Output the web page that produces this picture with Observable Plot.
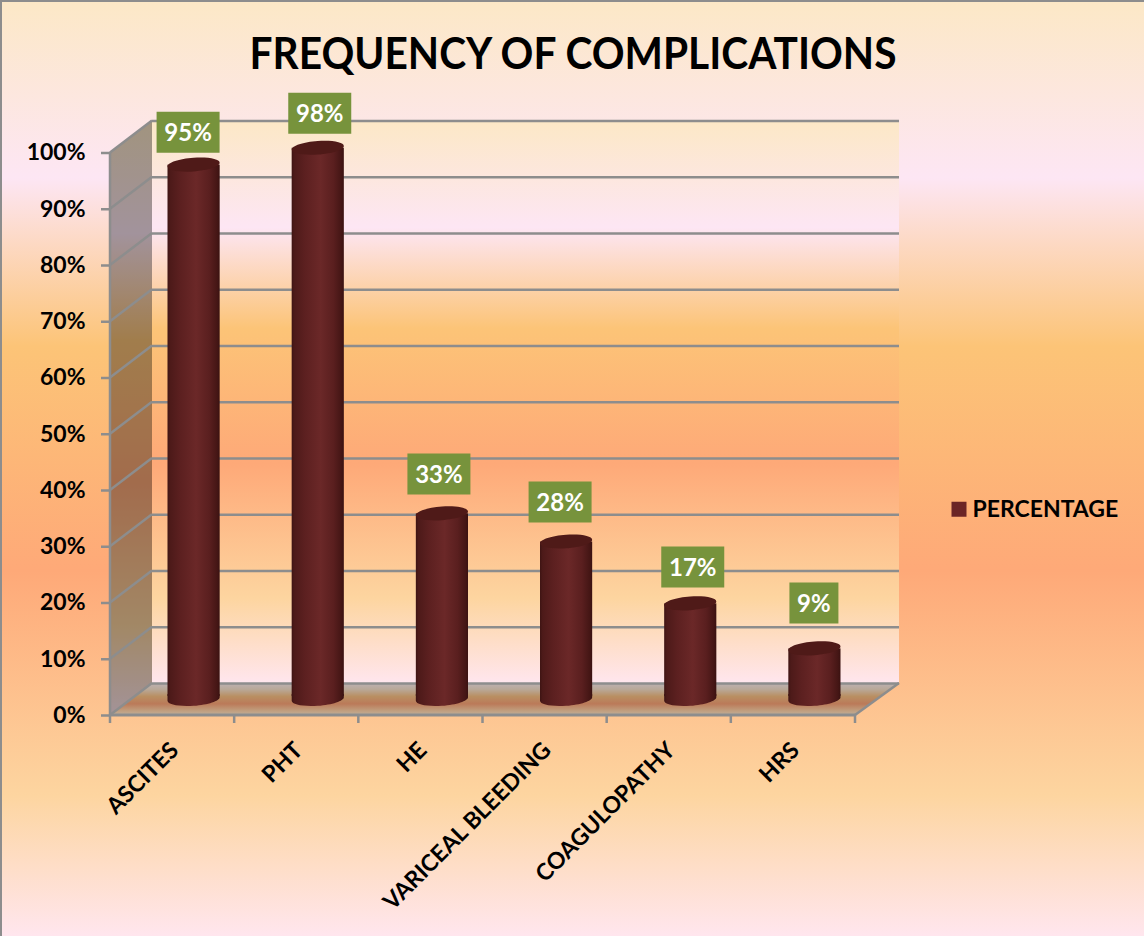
<!DOCTYPE html>
<html>
<head>
<meta charset="utf-8">
<script src="https://cdn.jsdelivr.net/npm/d3@7"></script>
<script src="https://cdn.jsdelivr.net/npm/@observablehq/plot@0.6"></script>
<style>
  html, body { margin: 0; padding: 0; background: #fff; }
  svg { display: block; }
</style>
</head>
<body>
<div id="chart"></div>
<script>
// Complication frequencies, in percent
const categories = ["ASCITES", "PHT", "HE", "VARICEAL BLEEDING", "COAGULOPATHY", "HRS"];
const percentages = [95, 98, 33, 28, 17, 9];
const yTicks = [0, 10, 20, 30, 40, 50, 60, 70, 80, 90, 100];

const chartTitle = "FREQUENCY OF COMPLICATIONS";
const seriesName = "PERCENTAGE";

// Hand placement of each value label, in pixels from its category and value
const labelOffsetX = [15.5, 23, 18, 15, 23.5, 20.5];
const labelOffsetY = [-49, -51, -56, -56, -53, -62];

const rows = categories.map((category, i) => ({category, value: percentages[i], i}));

// Oblique depth of the chart box
const depthX = 42;
const depthY = -32;
const lineGray = "#8d8d8d";
const font = "Lato";

// Shared sunset ramp for the page and the back wall
const ramp = [[0, "#fce8c6"], [0.19, "#fde6f4"], [0.37, "#fcc477"], [0.61, "#fea978"], [0.85, "#fdd5a0"], [1, "#ffe6ee"]];
const cssRamp = ramp.map(([o, c]) => `${c} ${o * 100}%`).join(", ");

function gradient(defs, id, stops, horizontal) {
  const g = defs.append("linearGradient").attr("id", id)
    .attr("x1", 0).attr("y1", 0)
    .attr("x2", horizontal ? 1 : 0).attr("y2", horizontal ? 0 : 1);
  for (const [o, c] of stops) g.append("stop").attr("offset", o).attr("stop-color", c);
}

const defsMark = () => {
  const defs = d3.create("svg:defs");
  gradient(defs, "wallRamp", ramp);
  gradient(defs, "floorRamp", [[0, "#bcb1b3"], [0.2, "#b9a898"], [0.42, "#b98f62"], [0.65, "#bb7a59"], [0.85, "#c09c7c"], [1, "#bfae98"]]);
  gradient(defs, "cylinder", [[0, "#3e1413"], [0.05, "#4d1a19"], [0.25, "#5c2020"], [0.55, "#6b2828"], [0.8, "#5a1f1f"], [0.95, "#451615"], [1, "#3a1211"]], true);
  return defs.node();
};

// Side wall, back wall, floor and the lines that tie them to the front axes
const boxMark = (index, {x, y}) => {
  const left = x(categories[0]);
  const right = x(categories[categories.length - 1]) + x.bandwidth();
  const y0 = y(0), y100 = y(100);
  const g = d3.create("svg:g");
  const poly = (pts, fill, opacity) => g.append("polygon")
    .attr("points", pts.map(p => p.join(",")).join(" "))
    .attr("fill", fill).attr("fill-opacity", opacity ?? 1);
  const seg = (x1, y1, x2, y2, w) => g.append("line")
    .attr("x1", x1).attr("y1", y1).attr("x2", x2).attr("y2", y2)
    .attr("stroke", lineGray).attr("stroke-width", w ?? 2.5);

  const backR = right + depthX + 2;
  poly([[left + depthX, y100 + depthY], [backR, y100 + depthY], [backR, y0 + depthY], [left + depthX, y0 + depthY]], "url(#wallRamp)");
  const side = [[left, y100], [left + depthX, y100 + depthY], [left + depthX, y0 + depthY], [left, y0]];
  poly(side, "url(#wallRamp)");
  poly(side, "#000", 0.36);
  poly([[left, y0], [left + depthX, y0 + depthY], [backR, y0 + depthY], [right, y0]], "url(#floorRamp)");

  for (const t of yTicks) seg(left, y(t), left + depthX, y(t) + depthY);
  seg(left, y100, left, y0);
  seg(left, y0, right, y0, 3);
  seg(right, y0, backR, y0 + depthY);
  for (const c of categories) seg(x(c), y0, x(c), y0 + 8);
  seg(right, y0, right, y0 + 8);
  return g.node();
};

// Cylinder ends: ellipses sheared so that the sides stay vertical
const capFlatness = 0.26, capShear = 0.07, bezierK = 0.5523;
const capPoint = (px, py) => [px, py - px * capShear];
const halfEllipse = (ctx, rx, ry, sign) => {
  const ctrl = (ax, ay, bx, by, cx, cy) =>
    ctx.bezierCurveTo(...capPoint(ax, ay), ...capPoint(bx, by), ...capPoint(cx, cy));
  ctrl(-rx * sign, ry * sign * bezierK, -rx * bezierK * sign, ry * sign, 0, ry * sign);
  ctrl(rx * bezierK * sign, ry * sign, rx * sign, ry * sign * bezierK, rx * sign, 0);
};
const capSymbol = {
  draw(ctx, size) {
    const rx = Math.sqrt(size / Math.PI), ry = rx * capFlatness;
    ctx.moveTo(...capPoint(-rx, 0));
    halfEllipse(ctx, rx, ry, 1);
    halfEllipse(ctx, rx, ry, -1);
    ctx.closePath();
  }
};
const baseSymbol = {
  draw(ctx, size) {
    const rx = Math.sqrt(size / Math.PI), ry = rx * capFlatness;
    ctx.moveTo(-rx, -5);
    ctx.lineTo(...capPoint(-rx, 0));
    halfEllipse(ctx, rx, ry, 1);
    ctx.lineTo(rx, -5);
    ctx.closePath();
  }
};

// Value label plate, sized by the width of its text
const plateSymbol = (w, h) => ({
  draw(ctx) { ctx.rect(-w / 2, -h / 2, w, h); }
});

const barDx = 21.5, barDy = -16;
const barRadius = 26.08;
// Plot nudges dots half a pixel relative to bars, so the caps take it back
const capDx = barDx - 0.5, capDy = barDy - 0.5;

const labelMarks = rows.flatMap(d => {
  const dx = labelOffsetX[d.i], dy = labelOffsetY[d.i];
  const width = d.value < 10 ? 49 : 63;
  return [
    Plot.dot([d], {x: "category", y: "value", dx, dy, symbol: plateSymbol(width, 41), r: 10, fill: "#77933c", stroke: "none"}),
    Plot.text([d], {x: "category", y: "value", dx, dy: dy + 1, text: v => `${v.value}%`, fill: "white", fontSize: 24, fontWeight: 700})
  ];
});

// Condenses a text mark to a set width without changing its height
const fitWidth = (length) => (index, scales, values, dimensions, context, next) => {
  const g = next(index, scales, values, dimensions, context);
  d3.select(g).selectAll("text").attr("textLength", length).attr("lengthAdjust", "spacingAndGlyphs");
  return g;
};

const chart = Plot.plot({
  width: 1144,
  height: 936,
  marginTop: 152.5,
  marginBottom: 221,
  marginLeft: 110,
  marginRight: 289,
  style: {
    background: `linear-gradient(180deg, ${cssRamp})`,
    boxShadow: `inset 2px 2px 0 ${lineGray}`,
    fontFamily: font,
    color: "black"
  },
  x: {domain: categories, padding: 0, round: false, label: null},
  y: {domain: [0, 100], label: null},
  marks: [
    defsMark,
    boxMark,
    Plot.ruleY(yTicks, {dx: depthX, dy: depthY, insetRight: -2, stroke: lineGray, strokeWidth: 2.5}),
    Plot.axisY({ticks: yTicks, tickFormat: d => `${d}%`, tickSize: 9, tickPadding: 16, stroke: lineGray, strokeWidth: 2.5, fontSize: 23, fontWeight: 700, label: null}),
    Plot.axisX({tickSize: 0, tickPadding: 31, tickRotate: -45, dx: 2, fontSize: 23, fontWeight: 700, label: null}),
    Plot.barY(rows, {x: "category", y: "value", dx: barDx, dy: barDy, insetLeft: 36, insetRight: 36, insetBottom: 3, fill: "url(#cylinder)"}),
    Plot.dot(rows, {x: "category", y: () => 0, dx: capDx, dy: capDy, symbol: baseSymbol, r: barRadius, fill: "url(#cylinder)", stroke: "none"}),
    Plot.dot(rows, {x: "category", y: "value", dx: capDx, dy: capDy, symbol: capSymbol, r: barRadius, fill: "#4f1a18", stroke: "none"}),
    ...labelMarks,
    Plot.text([chartTitle], {frameAnchor: "top", dx: 90, dy: -115, fontSize: 44, fontWeight: 700, fill: "black", render: fitWidth(647)}),
    Plot.dot([seriesName], {frameAnchor: "right", dx: 103.5, dy: 75, symbol: plateSymbol(15, 15), r: 5, fill: "#6b2526", stroke: "none"}),
    Plot.text([seriesName], {frameAnchor: "right", dx: 117, dy: 75, textAnchor: "start", fontSize: 23, fontWeight: 700, fill: "black"})
  ]
});

document.getElementById("chart").appendChild(chart);
</script>
</body>
</html>
